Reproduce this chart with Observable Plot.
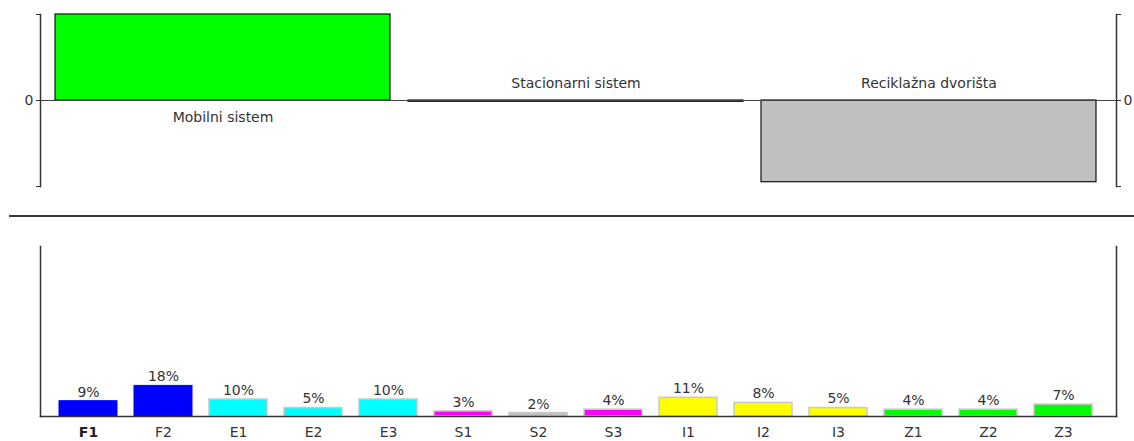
<!DOCTYPE html>
<html><head><meta charset="utf-8">
<script src="https://cdn.jsdelivr.net/npm/d3@7"></script>
<script src="https://cdn.jsdelivr.net/npm/@observablehq/plot@0.6"></script>
<style>
body{margin:0;background:#fff;font-family:"DejaVu Sans",sans-serif}
#wrap{position:relative;width:1134px;height:441px;overflow:hidden}
#top{position:absolute;left:0;top:0}
#sep{position:absolute;left:9px;top:215px;width:1125px;height:2px;background:#3a3a3a}
#bottom{position:absolute;left:0;top:220px}
</style>
</head><body>
<div id="wrap"><div id="top"></div><div id="sep"></div><div id="bottom"></div></div>
<script>
// ---- top panel data ----
const systems = ["Mobilni sistem", "Stacionarni sistem", "Reciklažna dvorišta"];
const systemValues = [1.0, -0.015, -0.95];
const systemColors = ["#00ff00", "#000000", "#c0c0c0"];

// ---- bottom panel data ----
const codes = ["F1","F2","E1","E2","E3","S1","S2","S3","I1","I2","I3","Z1","Z2","Z3"];
const shares = [9, 18, 10, 5, 10, 3, 2, 4, 11, 8, 5, 4, 4, 7];
const codeColors = ["#0000ff","#0000ff","#00ffff","#00ffff","#00ffff","#ff00ff","#c0c0c0","#ff00ff","#ffff00","#ffff00","#ffff00","#00ff00","#00ff00","#00ff00"];

const sys = systems.map((name, i) => ({name, value: systemValues[i]}));
const rows = codes.map((code, i) => ({code, share: shares[i]}));

const font = {fontFamily: "DejaVu Sans", fontSize: "14px", color: "#333", background: "transparent", overflow: "visible"};

const topPlot = Plot.plot({
  width: 1134, height: 200,
  marginLeft: 40, marginRight: 18, marginTop: 14, marginBottom: 14,
  style: font,
  x: {domain: systems, padding: 0.05, range: [37, 1115], axis: null},
  y: {domain: [-1, 1], axis: null},
  color: {domain: systems, range: systemColors},
  marks: [
    Plot.barY(sys, {x: "name", y: "value", fill: "name", stroke: "#111", strokeWidth: 1.2}),
    Plot.ruleY([0], {stroke: "#444", strokeWidth: 1}),
    Plot.axisY({anchor: "left", label: null, ticks: [-1, 0, 1], tickSize: 4, tickPadding: 3, tickFormat: d => d === 0 ? "0" : "", stroke: "#333"}),
    Plot.axisY({anchor: "right", label: null, ticks: [-1, 0, 1], tickSize: 4, tickPadding: 3, tickFormat: d => d === 0 ? "0" : "", stroke: "#333"}),
    Plot.frame({anchor: "left", stroke: "#333", strokeWidth: 1.5}),
    Plot.frame({anchor: "right", stroke: "#333", strokeWidth: 1.5}),
    Plot.text(sys.filter(d => d.value > 0), {x: "name", y: 0, text: "name", dy: 17, fill: "#333"}),
    Plot.text(sys.filter(d => d.value <= 0), {x: "name", y: 0, text: "name", dy: -17, fill: "#333"})
  ]
});
document.getElementById("top").append(topPlot);

const bottomPlot = Plot.plot({
  width: 1134, height: 221,
  marginLeft: 40, marginRight: 18, marginTop: 26, marginBottom: 25,
  style: font,
  x: {domain: codes, paddingInner: 0.23, paddingOuter: 0.27, range: [37, 1113], label: null},
  y: {domain: [0, 100], axis: null},
  color: {domain: codes, range: codeColors},
  marks: [
    Plot.barY(rows.filter(d => d.code[0] === "F"), {x: "code", y: "share", fill: "code", stroke: "code", strokeWidth: 1}),
    Plot.barY(rows.filter(d => d.code[0] !== "F"), {x: "code", y: "share", fill: "code", stroke: "#c8c8c8", strokeWidth: 1.5}),
    Plot.text(rows, {x: "code", y: "share", text: d => d.share + "%", dy: -9, fill: "#333"}),
    Plot.frame({anchor: "left", stroke: "#333", strokeWidth: 1.5}),
    Plot.frame({anchor: "right", stroke: "#333", strokeWidth: 1.5}),
    Plot.frame({anchor: "bottom", stroke: "#333", strokeWidth: 1.5}),
    Plot.axisX({ticks: codes.slice(1), tickSize: 0, tickPadding: 11, label: null, fill: "#333"}),
    Plot.axisX({ticks: codes.slice(0, 1), tickSize: 0, tickPadding: 11, label: null, fill: "#222", fontWeight: "bold"})
  ]
});
document.getElementById("bottom").append(bottomPlot);
</script>
</body></html>
